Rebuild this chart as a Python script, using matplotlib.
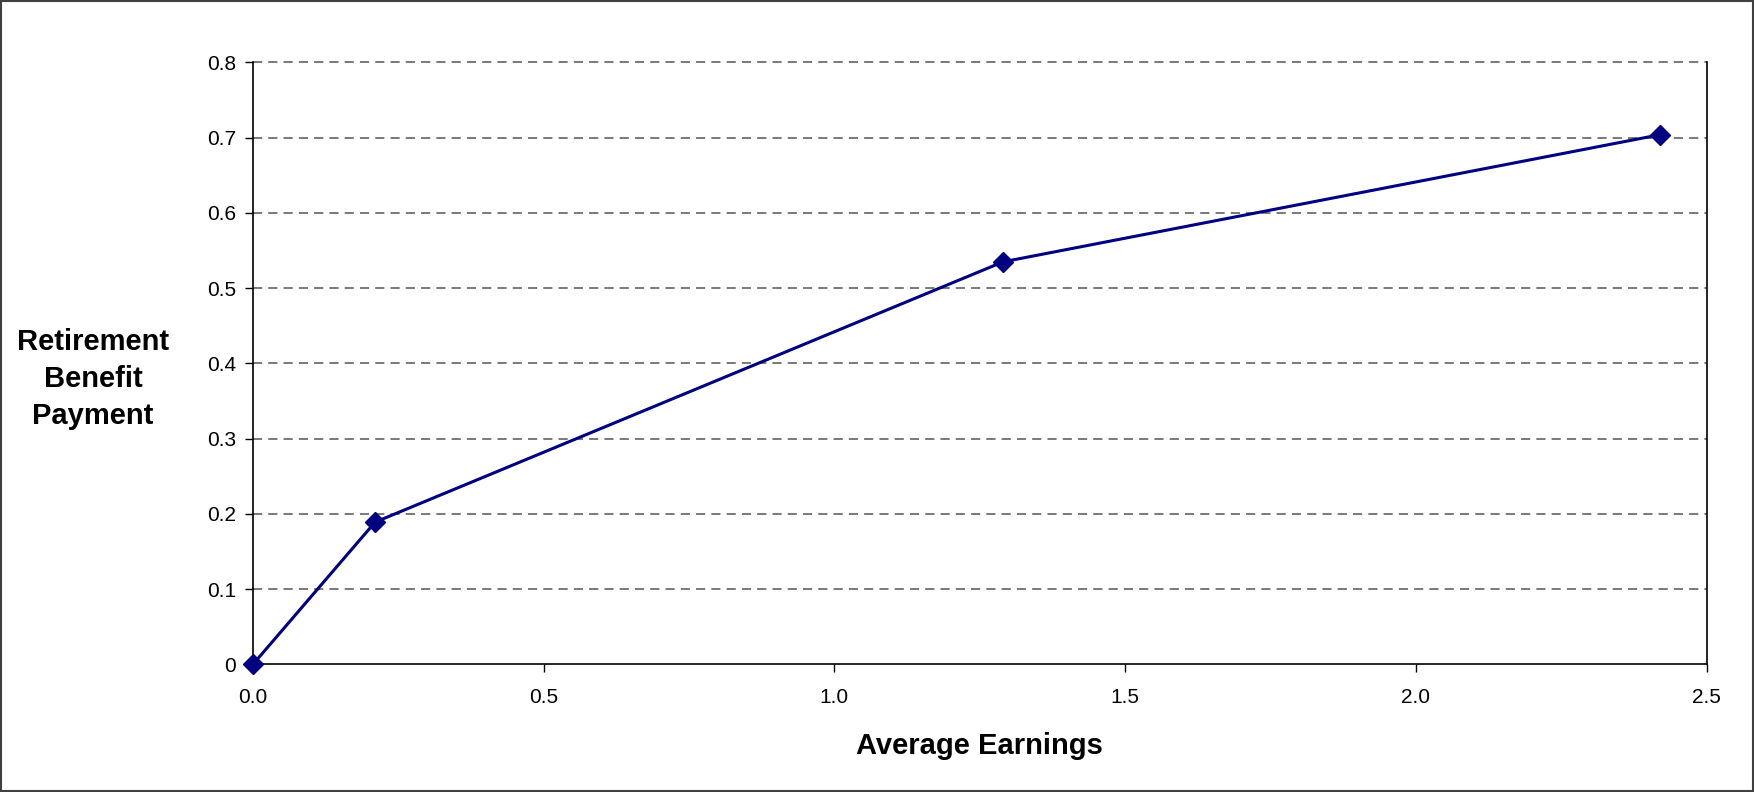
import numpy as np
import matplotlib.pyplot as plt
from matplotlib.patches import Rectangle

plt.rcParams['font.family'] = ['Liberation Sans', 'DejaVu Sans']

# data
earnings = [0.0, 0.21, 1.29, 2.42]
benefit = [0.0, 0.189, 0.535, 0.704]
x_ticks = [0.0, 0.5, 1.0, 1.5, 2.0, 2.5]
y_ticks = [0, 0.1, 0.2, 0.3, 0.4, 0.5, 0.6, 0.7, 0.8]
y_tick_labels = ['0', '0.1', '0.2', '0.3', '0.4', '0.5', '0.6', '0.7', '0.8']

fig = plt.figure(figsize=(17.54, 7.92), dpi=100)
W, H = 1754, 792
ax = fig.add_axes([253 / W, 1 - 664.3 / H, (1706.5 - 253) / W, (664.3 - 62.5) / H])

for y in y_ticks[1:]:
    ax.axhline(y, color='#555555', linestyle=(0, (6, 4)), linewidth=1.1, zorder=1, clip_on=False)

ax.plot(earnings, benefit, color='#000080', linewidth=2.2, marker='D',
        markersize=10, markerfacecolor='#000080', markeredgecolor='#000080',
        clip_on=False, zorder=3)

ax.set_xlim(0, 2.5)
ax.set_ylim(0, 0.8)
ax.set_xticks(x_ticks)
ax.set_xticklabels([f'{v:.1f}' for v in x_ticks])
ax.set_yticks(y_ticks)
ax.set_yticklabels(y_tick_labels)
ax.tick_params(axis='both', direction='out', length=6, width=1, labelsize=15, colors='black')
ax.tick_params(axis='x', pad=11)
ax.tick_params(axis='y', pad=6)

ax.spines['top'].set_visible(False)
for s in ['left', 'bottom', 'right']:
    ax.spines[s].set_linewidth(1.2)
    ax.spines[s].set_color('black')

ax.set_xlabel('Average Earnings', fontsize=21, fontweight='bold', labelpad=18)
fig.text(93 / W, 1 - 379 / H, 'Retirement\nBenefit\nPayment', ha='center', va='center',
         fontsize=21, fontweight='bold', linespacing=1.4)

# outer frame
fig.patches.append(Rectangle((0.0005, 0.001), 0.999, 0.998, transform=fig.transFigure,
                             fill=False, edgecolor='#404040', linewidth=1.5))

plt.savefig('out.png', dpi=100)
